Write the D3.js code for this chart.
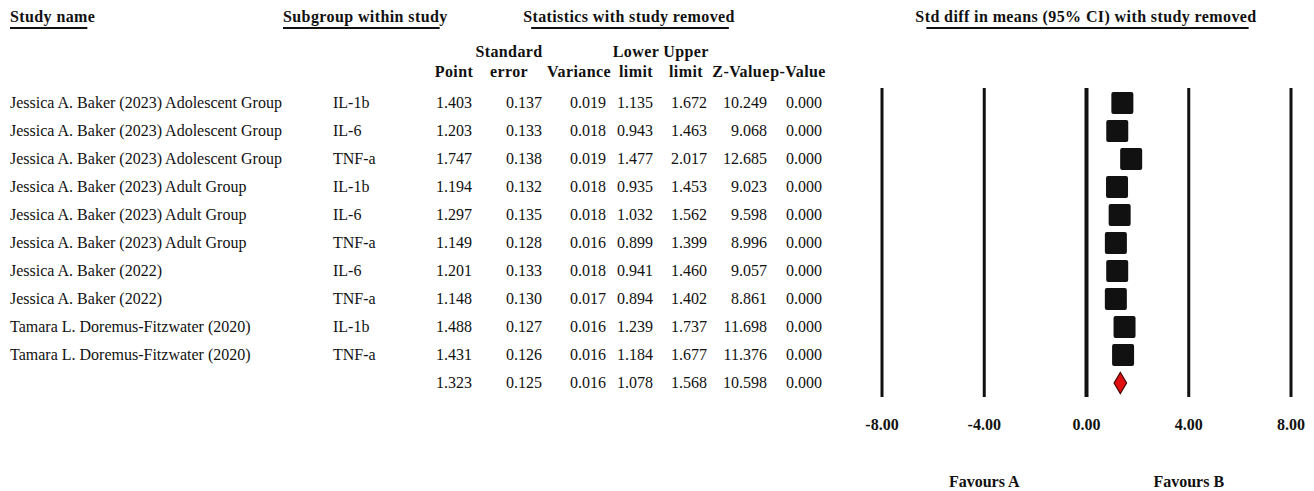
<!DOCTYPE html>
<html>
<head>
<meta charset="utf-8">
<script src="https://cdn.jsdelivr.net/npm/d3@7/dist/d3.min.js"></script>
<style>
  html, body { margin: 0; padding: 0; background: #fff; }
  svg { display: block; }
  text { font-family: "Liberation Serif", "Times New Roman", serif; fill: #111; }
  .hdr { font-weight: bold; font-size: 16px; letter-spacing: 0.4px; }
  .cell { font-size: 16px; }
  .tick { font-weight: bold; font-size: 16px; }
</style>
</head>
<body>
<script>
// Leave-one-out sensitivity analysis
const studies = [
  "Jessica A. Baker (2023) Adolescent Group",
  "Jessica A. Baker (2023) Adolescent Group",
  "Jessica A. Baker (2023) Adolescent Group",
  "Jessica A. Baker (2023) Adult Group",
  "Jessica A. Baker (2023) Adult Group",
  "Jessica A. Baker (2023) Adult Group",
  "Jessica A. Baker (2022)",
  "Jessica A. Baker (2022)",
  "Tamara L. Doremus-Fitzwater (2020)",
  "Tamara L. Doremus-Fitzwater (2020)"
];
const subgroups = ["IL-1b", "IL-6", "TNF-a", "IL-1b", "IL-6", "TNF-a", "IL-6", "TNF-a", "IL-1b", "TNF-a"];
const point    = [1.403, 1.203, 1.747, 1.194, 1.297, 1.149, 1.201, 1.148, 1.488, 1.431];
const stdErr   = [0.137, 0.133, 0.138, 0.132, 0.135, 0.128, 0.133, 0.130, 0.127, 0.126];
const variance = [0.019, 0.018, 0.019, 0.018, 0.018, 0.016, 0.018, 0.017, 0.016, 0.016];
const lower    = [1.135, 0.943, 1.477, 0.935, 1.032, 0.899, 0.941, 0.894, 1.239, 1.184];
const upper    = [1.672, 1.463, 2.017, 1.453, 1.562, 1.399, 1.460, 1.402, 1.737, 1.677];
const zValue   = [10.249, 9.068, 12.685, 9.023, 9.598, 8.996, 9.057, 8.861, 11.698, 11.376];
const pValue   = [0.000, 0.000, 0.000, 0.000, 0.000, 0.000, 0.000, 0.000, 0.000, 0.000];

// Pooled estimate
const pooled = { point: 1.323, se: 0.125, variance: 0.016, lower: 1.078, upper: 1.568, z: 10.598, p: 0.000 };

const axisTicks = [-8, -4, 0, 4, 8];
const favourLabels = ["Favours A", "Favours B"];
const favourAt = [-4, 4];

const W = 1314, H = 491;
const svg = d3.select("body").append("svg").attr("width", W).attr("height", H);

// Plain hyphen-minus for negative numbers
const locale = d3.formatLocale({ decimal: ".", thousands: ",", grouping: [3], currency: ["", ""], minus: "-" });
const f3 = locale.format(".3f");
const f2 = locale.format(".2f");

const nRows = studies.length + 1;
const y = d3.scaleLinear().domain([0, nRows - 1]).range([103, 383]);
const x = d3.scaleLinear().domain([-8, 8]).range([882, 1291]);

// Numeric columns (right edges)
const cols = [
  { key: "point", right: 472, vals: point },
  { key: "se", right: 542, vals: stdErr },
  { key: "var", right: 606, vals: variance },
  { key: "lo", right: 653, vals: lower },
  { key: "hi", right: 707, vals: upper },
  { key: "z", right: 767, vals: zValue },
  { key: "p", right: 822, vals: pValue }
];
const pooledVals = [pooled.point, pooled.se, pooled.variance, pooled.lower, pooled.upper, pooled.z, pooled.p];

// Section headers with underlines
function header(txt, xPos, anchor, ulStart, ulEnd) {
  const t = svg.append("text").attr("class", "hdr").attr("x", xPos).attr("y", 22)
    .attr("text-anchor", anchor).text(txt);
  const b = t.node().getBBox();
  svg.append("line").attr("x1", b.x + ulStart).attr("x2", b.x + b.width - ulEnd)
    .attr("y1", 28).attr("y2", 28).attr("stroke", "#111").attr("stroke-width", 2);
}
header("Study name", 10, "start", 0, 8);
header("Subgroup within study", 283, "start", 0, 8);
header("Statistics with study removed", 629, "middle", 8, 6);
header("Std diff in means (95% CI) with study removed", 1086, "middle", 11, 8);

// Column sub-headers
const subHdr = [
  { lines: ["", "Point"], cx: 454 },
  { lines: ["Standard", "error"], cx: 509 },
  { lines: ["", "Variance"], cx: 579 },
  { lines: ["Lower", "limit"], cx: 636 },
  { lines: ["Upper", "limit"], cx: 686 },
  { lines: ["", "Z-Value"], cx: 741 },
  { lines: ["", "p-Value"], cx: 798 }
];
subHdr.forEach(h => {
  h.lines.forEach((l, i) => {
    if (!l) return;
    svg.append("text").attr("class", "hdr").attr("x", h.cx).attr("y", 57 + i * 20)
      .attr("text-anchor", "middle").text(l);
  });
});

// Study rows
const rows = svg.append("g");
studies.forEach((s, i) => {
  const yy = y(i) + 5;
  rows.append("text").attr("class", "cell").attr("x", 10).attr("y", yy).text(s);
  rows.append("text").attr("class", "cell").attr("x", 333).attr("y", yy).text(subgroups[i]);
  cols.forEach(c => {
    rows.append("text").attr("class", "cell").attr("x", c.right).attr("y", yy)
      .attr("text-anchor", "end").text(f3(c.vals[i]));
  });
});
// Pooled row
cols.forEach((c, j) => {
  rows.append("text").attr("class", "cell").attr("x", c.right).attr("y", y(nRows - 1) + 5)
    .attr("text-anchor", "end").text(f3(pooledVals[j]));
});

// Vertical reference lines at each tick
svg.append("g").selectAll("line").data(axisTicks).join("line")
  .attr("x1", d => x(d)).attr("x2", d => x(d))
  .attr("y1", 88).attr("y2", 397)
  .attr("stroke", "#111").attr("stroke-width", d => d === 0 ? 4 : 3);

// Tick labels
svg.append("g").selectAll("text").data(axisTicks).join("text")
  .attr("class", "tick").attr("x", d => x(d)).attr("y", 430)
  .attr("text-anchor", "middle").text(d => f2(d));

// Favours labels
svg.append("g").selectAll("text").data(favourLabels).join("text")
  .attr("class", "tick").attr("x", (d, i) => x(favourAt[i])).attr("y", 487)
  .attr("text-anchor", "middle").text(d => d);

// Study point estimates
const sq = 22;
svg.append("g").selectAll("rect").data(point).join("rect")
  .attr("x", d => x(d) - sq / 2).attr("y", (d, i) => y(i) - sq / 2)
  .attr("width", sq).attr("height", sq).attr("rx", 2)
  .attr("fill", "#111");

// Pooled diamond
const dy = y(nRows - 1), dh = 10.5;
svg.append("path")
  .attr("d", `M${x(pooled.lower)},${dy} L${x(pooled.point)},${dy - dh} L${x(pooled.upper)},${dy} L${x(pooled.point)},${dy + dh} Z`)
  .attr("fill", "#e01010").attr("stroke", "#400").attr("stroke-width", 1.2);
</script>
</body>
</html>
